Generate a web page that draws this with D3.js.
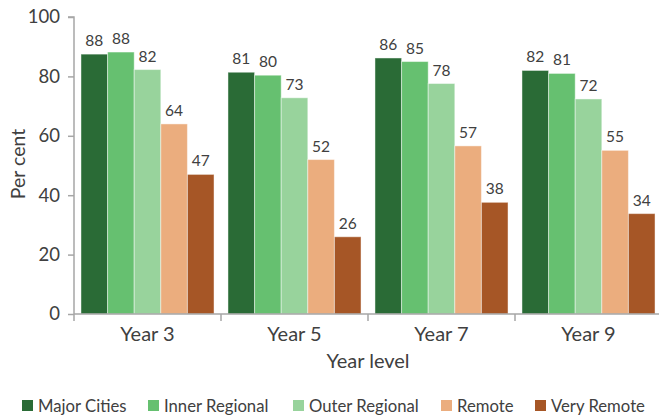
<!DOCTYPE html>
<html><head><meta charset="utf-8">
<script src="https://cdn.jsdelivr.net/npm/d3@7"></script>
<style>body{margin:0;background:#fff}svg{display:block}text{font-family:Lato,"Open Sans",sans-serif;fill:#404040}</style>
</head><body><svg id="c" width="659" height="416"></svg>
<script>
const categories = ["Year 3","Year 5","Year 7","Year 9"];
const seriesNames = ["Major Cities","Inner Regional","Outer Regional","Remote","Very Remote"];
const majorCities   = [87.5, 81.4, 86.2, 82.0];
const innerRegional = [88.2, 80.4, 85.0, 81.0];
const outerRegional = [82.3, 72.8, 77.6, 72.4];
const remote        = [64.0, 52.0, 56.6, 55.1];
const veryRemote    = [47.0, 26.0, 37.6, 33.8];
const colors = ["#2a6b36","#66c070","#98d39c","#ebad7e","#a65626"];
const yTicks = [0,20,40,60,80,100];

const series = [majorCities, innerRegional, outerRegional, remote, veryRemote];
const svg = d3.select("#c");
const m = {l:74, r:0, t:17, b:102};
const W = 659, H = 416;
const x0 = d3.scaleBand().domain(categories).range([m.l, W - m.r + 3]).paddingInner(0.095).paddingOuter(0.0475);
const x1 = d3.scaleBand().domain(seriesNames).range([0, x0.bandwidth()]);
const y = d3.scaleLinear().domain([0,100]).range([H - m.b, m.t]);

const g = svg.append("g");
categories.forEach((c, ci) => {
  seriesNames.forEach((s, si) => {
    const v = series[si][ci];
    g.append("rect")
      .attr("x", x0(c) + x1(s)).attr("y", y(v))
      .attr("width", x1.bandwidth()).attr("height", y(0) - y(v))
      .attr("fill", colors[si]).attr("stroke", "rgba(255,255,255,0.45)").attr("stroke-width", 1);
    g.append("text").attr("x", x0(c) + x1(s) + x1.bandwidth()/2).attr("y", y(v) - 8)
      .attr("text-anchor","middle").attr("font-size", 15.5).text(Math.round(v));
  });
});

// y axis
const ya = svg.append("g").attr("transform", `translate(${m.l},0)`)
  .call(d3.axisLeft(y).tickValues(yTicks).tickSize(6).tickPadding(8));
ya.select(".domain").attr("stroke","#a6a6a6").attr("stroke-width",1.5).attr("d", `M-6,${y(100)}H0V${y(0)}`);
ya.selectAll(".tick line").attr("stroke","#a6a6a6").attr("stroke-width",1.5);
ya.selectAll(".tick text").attr("font-size",18.5).attr("fill","#404040").style("font-family","Lato,sans-serif");

// x axis
const xa = svg.append("g").attr("transform", `translate(0,${y(0)})`);
xa.append("line").attr("x1", m.l).attr("x2", W).attr("y1",0).attr("y2",0).attr("stroke","#a6a6a6").attr("stroke-width",1.5);
const step = x0.step();
categories.forEach((c, i) => {
  const bx = m.l + i*step;
  xa.append("line").attr("x1", bx).attr("x2", bx).attr("y1",0).attr("y2",7).attr("stroke","#a6a6a6").attr("stroke-width",1.5);
  xa.append("text").attr("x", x0(c) + x0.bandwidth()/2).attr("y", 27).attr("text-anchor","middle").attr("font-size",20).text(c);
});

svg.append("text").attr("x", 368).attr("y", 368).attr("text-anchor","middle").attr("font-size",20).text("Year level");
svg.append("text").attr("transform","translate(25,164) rotate(-90)").attr("text-anchor","middle").attr("font-size",19.5).text("Per cent");

// legend
const legX = [22, 148, 293, 441, 535];
const lg = svg.append("g");
seriesNames.forEach((s, i) => {
  lg.append("rect").attr("x", legX[i]).attr("y", 400).attr("width", 11).attr("height", 11).attr("fill", colors[i]);
  lg.append("text").attr("x", legX[i] + 16).attr("y", 411.5).attr("font-size",16.7).text(s);
});
</script></body></html>
